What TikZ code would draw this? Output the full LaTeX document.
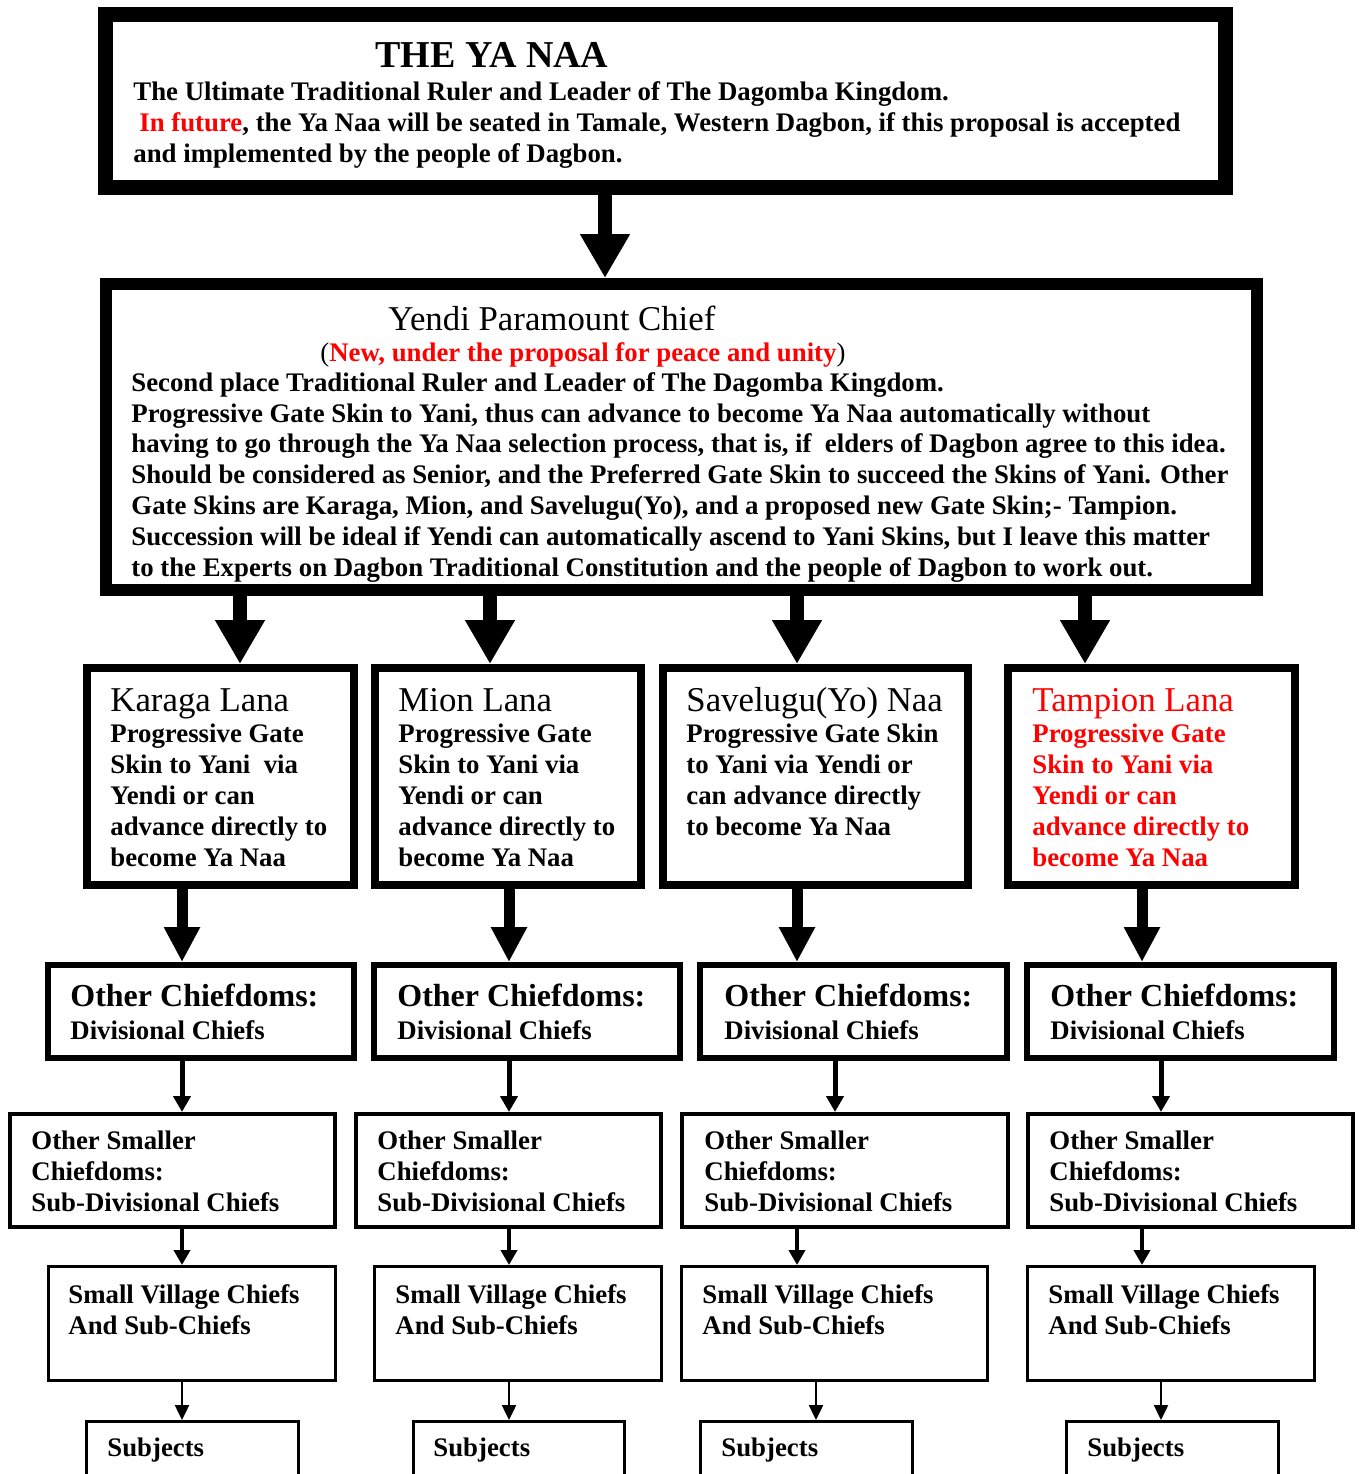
\documentclass[tikz,border=0pt]{standalone}
\usepackage{fontspec}
\setmainfont{Liberation Serif}
\usepackage{xcolor}
\usepackage{tikz}
\usetikzlibrary{calc,arrows.meta}
\tikzset{
frame/.style={
    draw, rectangle, anchor=north west,
    inner sep=0pt, fill=white
  },
body/.style={
    anchor=base west, align=left, inner sep=0pt,
    font=\fontsize{13.4pt}{15.4pt}\selectfont\bfseries
  }
}

\begin{document}
\begin{tikzpicture}[x=0.5pt,y=-0.5pt,
 head/.style={anchor=base west, inner sep=0pt,
        font=\fontsize{17.4pt}{19pt}\selectfont},
 bigarr/.style={line width=7pt, -{Triangle[width=23.5pt,length=22pt]}},
 midarr/.style={line width=5.5pt, -{Triangle[width=17pt,length=17.5pt]}},
 arrA/.style={line width=2.5pt, -{Triangle[width=8.5pt,length=8pt]}},
 arrB/.style={line width=2pt, -{Triangle[width=8pt,length=7.5pt]}},
 arrC/.style={line width=1.2pt, -{Triangle[width=7pt,length=7.5pt]}}
  ]
\useasboundingbox (0,0) rectangle (1361,1474);

\node[frame, line width=7.5pt, minimum width=560pt, minimum height=86.5pt] (N) at (98,7) {};
\node[frame, line width=6pt, minimum width=575.5pt, minimum height=153pt] (Y) at (100,278) {};

\node[frame, line width=4pt, minimum width=133.5pt, minimum height=108.5pt] (K) at (83,664) {};
\node[frame, line width=4pt, minimum width=133pt, minimum height=108.5pt] (M) at (371,664) {};
\node[frame, line width=4pt, minimum width=152.5pt, minimum height=108.5pt] (S) at (659,664) {};
\node[frame, line width=4pt, minimum width=143.5pt, minimum height=108.5pt] (T) at (1004,664) {};

\node[frame, line width=3pt, minimum width=153pt, minimum height=46.5pt] (D1) at (45,962) {};
\node[frame, line width=3pt, minimum width=153pt, minimum height=46.5pt] (D2) at (371,962) {};
\node[frame, line width=3pt, minimum width=153.5pt, minimum height=46.5pt] (D3) at (697,962) {};
\node[frame, line width=3pt, minimum width=153.5pt, minimum height=46.5pt] (D4) at (1024,962) {};

\node[frame, line width=2pt, minimum width=162.5pt, minimum height=56.5pt] (U1) at (8,1112) {};
\node[frame, line width=2pt, minimum width=152.5pt, minimum height=56.5pt] (U2) at (354,1112) {};
\node[frame, line width=2pt, minimum width=163pt, minimum height=56.5pt] (U3) at (680,1112) {};
\node[frame, line width=2pt, minimum width=162.5pt, minimum height=56.5pt] (U4) at (1026,1112) {};

\node[frame, line width=1.5pt, minimum width=143.5pt, minimum height=57pt] (V1) at (47,1265) {};
\node[frame, line width=1.5pt, minimum width=143.5pt, minimum height=57pt] (V2) at (373,1265) {};
\node[frame, line width=1.5pt, minimum width=153pt, minimum height=57pt] (V3) at (680,1265) {};
\node[frame, line width=1.5pt, minimum width=143.5pt, minimum height=57pt] (V4) at (1026,1265) {};

\node[frame, line width=1.5pt, minimum width=105.75pt, minimum height=38.5pt] (P1) at (85,1420) {};
\node[frame, line width=1.5pt, minimum width=105.25pt, minimum height=38.5pt] (P2) at (412,1420) {};
\node[frame, line width=1.5pt, minimum width=105.75pt, minimum height=38.5pt] (P3) at (699,1420) {};
\node[frame, line width=1.5pt, minimum width=105.75pt, minimum height=38.5pt] (P4) at (1065,1420) {};

\node[anchor=base west, inner sep=0pt, font=\fontsize{19pt}{21pt}\selectfont\bfseries] (Nh) at (375,67) {THE YA NAA};
\node[body] (Nb) at (133,162) {The Ultimate Traditional Ruler and Leader of The Dagomba Kingdom.\\
\hspace*{3pt}\textcolor{red}{In future}, the Ya Naa will be seated in Tamale, Western Dagbon, if this proposal is accepted\\
and implemented by the people of Dagbon.};

\node[head] (Yh) at (388,330) {Yendi Paramount Chief};
\node[body] (Yr) at (320,361) {\mdseries(\bfseries\textcolor{red}{New, under the proposal for peace and unity}\mdseries)};
\node[body] (Yb) at (131,576) {Second place Traditional Ruler and Leader of The Dagomba Kingdom.\\
Progressive Gate Skin to Yani, thus can advance to become Ya Naa automatically without\\
having to go through the Ya Naa selection process, that is, if\ \ elders of Dagbon agree to this idea.\\
Should be considered as Senior, and the Preferred Gate Skin to succeed the Skins of Yani. Other\\
Gate Skins are Karaga, Mion, and Savelugu(Yo), and a proposed new Gate Skin;- Tampion.\\
Succession will be ideal if Yendi can automatically ascend to Yani Skins, but I leave this matter\\
to the Experts on Dagbon Traditional Constitution and the people of Dagbon to work out.};

\node[head] (Kh) at (110,711) {Karaga Lana};
\node[body] (Kb) at (110,866) {Progressive Gate\\ Skin to Yani\ \ via\\ Yendi or can\\ advance directly to\\ become Ya Naa};
\node[head] (Mh) at (398,711) {Mion Lana};
\node[body] (Mb) at (398,866) {Progressive Gate\\ Skin to Yani via\\ Yendi or can\\ advance directly to\\ become Ya Naa};
\node[head] (Sh) at (686,711) {Savelugu(Yo) Naa};
\node[body] (Sb) at (686,835) {Progressive Gate Skin\\ to Yani via Yendi or\\ can advance directly\\ to become Ya Naa};
\node[head, text=red] (Th) at (1032,711) {Tampion Lana};
\node[body, text=red] (Tb) at (1032,866) {Progressive Gate\\ Skin to Yani via\\ Yendi or can\\ advance directly to\\ become Ya Naa};

\node[head, font=\fontsize{16pt}{18pt}\selectfont\bfseries] (D1h) at (70,1006) {Other Chiefdoms:};
\node[body] (D1b) at (70,1039) {Divisional Chiefs};
\node[head, font=\fontsize{16pt}{18pt}\selectfont\bfseries] (D2h) at (397,1006) {Other Chiefdoms:};
\node[body] (D2b) at (397,1039) {Divisional Chiefs};
\node[head, font=\fontsize{16pt}{18pt}\selectfont\bfseries] (D3h) at (724,1006) {Other Chiefdoms:};
\node[body] (D3b) at (724,1039) {Divisional Chiefs};
\node[head, font=\fontsize{16pt}{18pt}\selectfont\bfseries] (D4h) at (1050,1006) {Other Chiefdoms:};
\node[body] (D4b) at (1050,1039) {Divisional Chiefs};

\node[body] (U1b) at (31,1211) {Other Smaller\\ Chiefdoms:\\ Sub-Divisional Chiefs};
\node[body] (U2b) at (377,1211) {Other Smaller\\ Chiefdoms:\\ Sub-Divisional Chiefs};
\node[body] (U3b) at (704,1211) {Other Smaller\\ Chiefdoms:\\ Sub-Divisional Chiefs};
\node[body] (U4b) at (1049,1211) {Other Smaller\\ Chiefdoms:\\ Sub-Divisional Chiefs};

\node[body] (V1b) at (68,1334) {Small Village Chiefs\\ And Sub-Chiefs};
\node[body] (V2b) at (395,1334) {Small Village Chiefs\\ And Sub-Chiefs};
\node[body] (V3b) at (702,1334) {Small Village Chiefs\\ And Sub-Chiefs};
\node[body] (V4b) at (1048,1334) {Small Village Chiefs\\ And Sub-Chiefs};

\node[body] (P1b) at (107,1456) {Subjects};
\node[body] (P2b) at (433,1456) {Subjects};
\node[body] (P3b) at (721,1456) {Subjects};
\node[body] (P4b) at (1087,1456) {Subjects};

\draw[bigarr] (N.south -| 605,0) -- (Y.north -| 605,0);

\draw[bigarr] (Y.south -| 240,0) -- (K.north -| 240,0);
\draw[bigarr] (Y.south -| 490,0) -- (M.north -| 490,0);
\draw[bigarr] (Y.south -| 797,0) -- (S.north -| 797,0);
\draw[bigarr] (Y.south -| 1085,0) -- (T.north -| 1085,0);

\draw[midarr] (K.south -| 182,0) -- (D1.north -| 182,0);
\draw[midarr] (M.south -| 509,0) -- (D2.north -| 509,0);
\draw[midarr] (S.south -| 797,0) -- (D3.north -| 797,0);
\draw[midarr] (T.south -| 1142,0) -- (D4.north -| 1142,0);

\draw[arrA] (D1.south -| 182,0) -- (U1.north -| 182,0);
\draw[arrA] (D2.south -| 509,0) -- (U2.north -| 509,0);
\draw[arrA] (D3.south -| 835,0) -- (U3.north -| 835,0);
\draw[arrA] (D4.south -| 1161,0) -- (U4.north -| 1161,0);

\draw[arrB] (U1.south -| 182,0) -- (V1.north -| 182,0);
\draw[arrB] (U2.south -| 509,0) -- (V2.north -| 509,0);
\draw[arrB] (U3.south -| 797,0) -- (V3.north -| 797,0);
\draw[arrB] (U4.south -| 1142,0) -- (V4.north -| 1142,0);

\draw[arrC] (V1.south -| 182,0) -- (P1.north -| 182,0);
\draw[arrC] (V2.south -| 509,0) -- (P2.north -| 509,0);
\draw[arrC] (V3.south -| 816,0) -- (P3.north -| 816,0);
\draw[arrC] (V4.south -| 1161,0) -- (P4.north -| 1161,0);
\end{tikzpicture}
\end{document}
